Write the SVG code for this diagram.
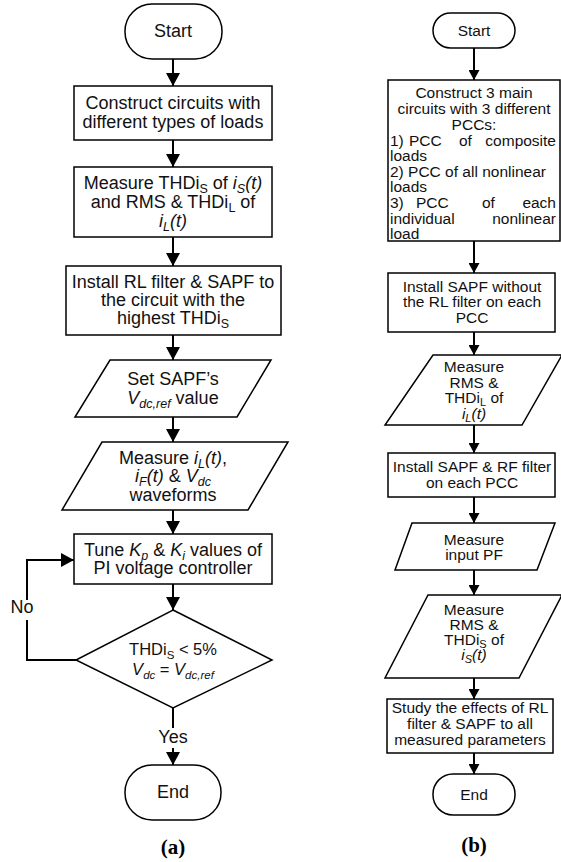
<svg xmlns="http://www.w3.org/2000/svg" width="561" height="862" viewBox="0 0 561 862">
<style>
.shape{fill:#fff;stroke:#000;stroke-width:1.5}
.conn{fill:none;stroke:#000;stroke-width:2}
.ta{font-family:"Liberation Sans",Arial,sans-serif;font-size:18px;fill:#111;text-anchor:middle}
.tb{font-family:"Liberation Sans",Arial,sans-serif;font-size:15.5px;fill:#111;text-anchor:middle}
.tbl{font-family:"Liberation Sans",Arial,sans-serif;font-size:15.5px;fill:#111;text-anchor:start}
.tbr{font-family:"Liberation Sans",Arial,sans-serif;font-size:15.5px;fill:#111;text-anchor:end}
.it{font-style:italic}
.cap{font-family:"Liberation Serif","Times New Roman",serif;font-weight:bold;font-size:21px;fill:#000;text-anchor:middle}
</style>
<defs>
<marker id="ah" markerUnits="userSpaceOnUse" markerWidth="14" markerHeight="14" refX="13" refY="7" orient="auto">
<path d="M0,0 L13,7 L0,14 z" fill="#000"/>
</marker>
<marker id="ahb" markerUnits="userSpaceOnUse" markerWidth="11" markerHeight="11" refX="10" refY="5.5" orient="auto">
<path d="M0,0 L10,5.5 L0,11 z" fill="#000"/>
</marker>
</defs>

<g id="connectors">
<line class="conn" x1="173" y1="59" x2="173" y2="86" marker-end="url(#ah)"/>
<line class="conn" x1="173" y1="140" x2="173" y2="167" marker-end="url(#ah)"/>
<line class="conn" x1="173" y1="237" x2="173" y2="266" marker-end="url(#ah)"/>
<line class="conn" x1="173" y1="335" x2="173" y2="360" marker-end="url(#ah)"/>
<line class="conn" x1="173" y1="417" x2="173" y2="442" marker-end="url(#ah)"/>
<line class="conn" x1="173" y1="510" x2="173" y2="534" marker-end="url(#ah)"/>
<line class="conn" x1="173" y1="584" x2="173" y2="610" marker-end="url(#ah)"/>
<line class="conn" x1="173" y1="708" x2="173" y2="728"/>
<line class="conn" x1="173" y1="748" x2="173" y2="765" marker-end="url(#ah)"/>
<polyline class="conn" points="76,660 27,660 27,620"/>
<polyline class="conn" points="27,600 27,560 74,560" marker-end="url(#ah)"/>

<line class="conn" x1="474" y1="48" x2="474" y2="80" marker-end="url(#ahb)"/>
<line class="conn" x1="474" y1="241" x2="474" y2="273" marker-end="url(#ahb)"/>
<line class="conn" x1="474" y1="332" x2="474" y2="355" marker-end="url(#ahb)"/>
<line class="conn" x1="474" y1="425" x2="474" y2="453" marker-end="url(#ahb)"/>
<line class="conn" x1="474" y1="497" x2="474" y2="523" marker-end="url(#ahb)"/>
<line class="conn" x1="474" y1="570" x2="474" y2="595" marker-end="url(#ahb)"/>
<line class="conn" x1="474" y1="678" x2="474" y2="699" marker-end="url(#ahb)"/>
<line class="conn" x1="474" y1="753" x2="474" y2="774" marker-end="url(#ahb)"/>
<text class="ta" x="22" y="613">No</text>
<text class="ta" x="173" y="743">Yes</text>
</g>

<g id="a-start">
<rect class="shape" x="125" y="4" width="97" height="55" rx="27" ry="27"/>
<text class="ta" x="173" y="37">Start</text>
</g>
<g id="a-construct">
<rect class="shape" x="74" y="86" width="198" height="54"/>
<text class="ta" x="173" y="109">Construct circuits with</text>
<text class="ta" x="173" y="128">different types of loads</text>
</g>
<g id="a-measure-thd">
<rect class="shape" x="74" y="167" width="198" height="70"/>
<text class="ta" x="173" y="189">Measure THDi<tspan font-size="12.5" dy="4">S</tspan><tspan dy="-4"> of </tspan><tspan class="it">i</tspan><tspan class="it" font-size="12.5" dy="4">S</tspan><tspan class="it" dy="-4">(t)</tspan></text>
<text class="ta" x="173" y="208">and RMS &amp; THDi<tspan font-size="12.5" dy="4">L</tspan><tspan dy="-4"> of</tspan></text>
<text class="ta" x="173" y="227"><tspan class="it">i</tspan><tspan class="it" font-size="12.5" dy="4">L</tspan><tspan class="it" dy="-4">(t)</tspan></text>
</g>
<g id="a-install">
<rect class="shape" x="66" y="266" width="215" height="69"/>
<text class="ta" x="173" y="288">Install RL filter &amp; SAPF to</text>
<text class="ta" x="173" y="306">the circuit with the</text>
<text class="ta" x="173" y="324">highest THDi<tspan font-size="12.5" dy="4">S</tspan></text>
</g>
<g id="a-set">
<polygon class="shape" points="110,360 271,360 237,417 75,417"/>
<text class="ta" x="173" y="385">Set SAPF’s</text>
<text class="ta" x="173" y="404"><tspan class="it">V</tspan><tspan class="it" font-size="12.5" dy="4">dc,ref</tspan><tspan dy="-4"> value</tspan></text>
</g>
<g id="a-measure-wave">
<polygon class="shape" points="102,442 288,442 248,510 62,510"/>
<text class="ta" x="173" y="464">Measure <tspan class="it">i</tspan><tspan class="it" font-size="12.5" dy="4">L</tspan><tspan class="it" dy="-4">(t)</tspan>,</text>
<text class="ta" x="173" y="482"><tspan class="it">i</tspan><tspan class="it" font-size="12.5" dy="4">F</tspan><tspan class="it" dy="-4">(t)</tspan> &amp; <tspan class="it">V</tspan><tspan class="it" font-size="12.5" dy="4">dc</tspan></text>
<text class="ta" x="173" y="501">waveforms</text>
</g>
<g id="a-tune">
<rect class="shape" x="74" y="534" width="198" height="50"/>
<text class="ta" x="173" y="556">Tune <tspan class="it">K</tspan><tspan class="it" font-size="12.5" dy="4">p</tspan><tspan dy="-4"> &amp; </tspan><tspan class="it">K</tspan><tspan class="it" font-size="12.5" dy="4">i</tspan><tspan dy="-4"> values of</tspan></text>
<text class="ta" x="173" y="574">PI voltage controller</text>
</g>
<g id="a-decision">
<polygon class="shape" points="173,610 272,660 173,708 76,660"/>
<text class="ta" x="173" y="655" style="font-size:16.5px">THDi<tspan font-size="11.5" dy="4">S</tspan><tspan dy="-4"> &lt; 5%</tspan></text>
<text class="ta" x="173" y="675" style="font-size:16.5px"><tspan class="it">V</tspan><tspan class="it" font-size="11.5" dy="4">dc</tspan><tspan dy="-4"> = </tspan><tspan class="it">V</tspan><tspan class="it" font-size="11.5" dy="4">dc,ref</tspan></text>
</g>
<g id="a-end">
<rect class="shape" x="125" y="765" width="96" height="55" rx="27" ry="27"/>
<text class="ta" x="173" y="798">End</text>
</g>
<text class="cap" x="173" y="854">(a)</text>

<g id="b-start">
<rect class="shape" x="433" y="13" width="82" height="35" rx="17.5" ry="17.5"/>
<text class="tb" x="474" y="36">Start</text>
</g>
<g id="b-construct">
<rect class="shape" x="388" y="80" width="172" height="161"/>
<text class="tb" x="474" y="98">Construct 3 main</text>
<text class="tb" x="474" y="114">circuits with 3 different</text>
<text class="tb" x="474" y="130">PCCs:</text>
<text class="tbl" x="390" y="146">1)</text>
<text class="tbl" x="409" y="146">PCC</text>
<text class="tbl" x="459" y="146">of</text>
<text class="tbr" x="556" y="146">composite</text>
<text class="tbl" x="390" y="161">loads</text>
<text class="tbl" x="390" y="177">2) PCC of all nonlinear</text>
<text class="tbl" x="390" y="192">loads</text>
<text class="tbl" x="390" y="208">3)</text>
<text class="tbl" x="416" y="208">PCC</text>
<text class="tbl" x="482" y="208">of</text>
<text class="tbr" x="556" y="208">each</text>
<text class="tbl" x="390" y="224">individual</text>
<text class="tbr" x="556" y="224">nonlinear</text>
<text class="tbl" x="390" y="239">load</text>
</g>
<g id="b-install-sapf">
<rect class="shape" x="388" y="273" width="167" height="59"/>
<text class="tb" x="472" y="292">Install SAPF without</text>
<text class="tb" x="472" y="307">the RL filter on each</text>
<text class="tb" x="472" y="323">PCC</text>
</g>
<g id="b-measure-il">
<polygon class="shape" points="433,355 562,355 522,425 385,425"/>
<text class="tb" x="474" y="372">Measure</text>
<text class="tb" x="474" y="388">RMS &amp;</text>
<text class="tb" x="474" y="403">THDi<tspan font-size="11" dy="3">L</tspan><tspan dy="-3"> of</tspan></text>
<text class="tb" x="474" y="419"><tspan class="it">i</tspan><tspan class="it" font-size="11" dy="3">L</tspan><tspan class="it" dy="-3">(t)</tspan></text>
</g>
<g id="b-install-rf">
<rect class="shape" x="388" y="453" width="167" height="44"/>
<text class="tb" x="472" y="472">Install SAPF &amp; RF filter</text>
<text class="tb" x="472" y="488">on each PCC</text>
</g>
<g id="b-measure-pf">
<polygon class="shape" points="412,523 555,523 537,570 395,570"/>
<text class="tb" x="474" y="545">Measure</text>
<text class="tb" x="474" y="560">input PF</text>
</g>
<g id="b-measure-is">
<polygon class="shape" points="428,595 562,595 519,678 385,678"/>
<text class="tb" x="474" y="615">Measure</text>
<text class="tb" x="474" y="630">RMS &amp;</text>
<text class="tb" x="474" y="645">THDi<tspan font-size="11" dy="3">S</tspan><tspan dy="-3"> of</tspan></text>
<text class="tb" x="474" y="660"><tspan class="it">i</tspan><tspan class="it" font-size="11" dy="3">S</tspan><tspan class="it" dy="-3">(t)</tspan></text>
</g>
<g id="b-study">
<rect class="shape" x="387" y="699" width="166" height="54"/>
<text class="tb" x="470" y="713">Study the effects of RL</text>
<text class="tb" x="470" y="729">filter &amp; SAPF to all</text>
<text class="tb" x="470" y="745">measured parameters</text>
</g>
<g id="b-end">
<rect class="shape" x="433" y="774" width="82" height="41" rx="20" ry="20"/>
<text class="tb" x="474" y="800">End</text>
</g>
<text class="cap" x="474" y="852">(b)</text>
</svg>
